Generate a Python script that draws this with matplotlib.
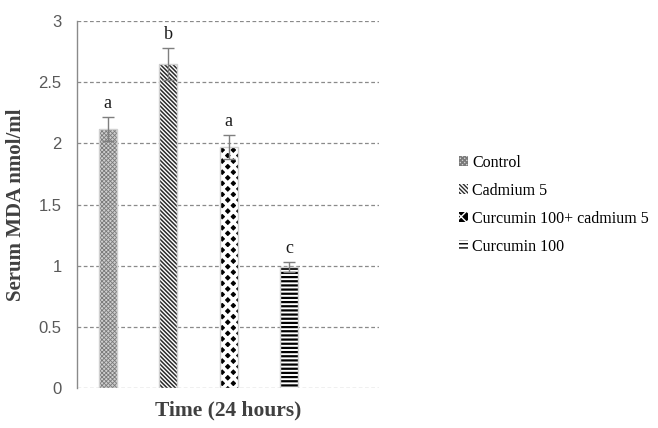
import matplotlib
matplotlib.use("Agg")
from matplotlib import pyplot as plt
import numpy as np

groups = ['Control', 'Cadmium 5', 'Curcumin 100+ cadmium 5', 'Curcumin 100']
means = [2.12, 2.65, 1.97, 0.99]
errors = [0.10, 0.13, 0.10, 0.04]
letters = ['a', 'b', 'a', 'c']

# fill colour, hatch, hatch colour, hatch line width
fills = ['#cfcfcf', 'white', 'black', 'white']
hatches = ['xxxxxxxx', '\\' * 8, 'xxx', '----']
hatch_colors = ['#7a7a7a', '#2a2a2a', 'white', '#000000']
hatch_widths = [0.6, 1.1, 2.6, 1.6]

fig = plt.figure(figsize=(6.58, 4.28), dpi=100)
ax = fig.add_axes([0.117, 0.0935, 0.459, 0.857])

x = np.arange(len(groups))
bars = []
for i in range(len(groups)):
    plt.rcParams['hatch.linewidth'] = hatch_widths[i]
    b = ax.bar(x[i], means[i], width=0.3, color=fills[i], edgecolor=hatch_colors[i],
               hatch=hatches[i], linewidth=0, label=groups[i], zorder=3)
    if hasattr(b[0], 'set_hatch_linewidth'):
        b[0].set_hatch_linewidth(hatch_widths[i])
    bars.append(b)
    ax.bar(x[i], means[i], width=0.3, color='none', edgecolor='#d0d0d0',
           linewidth=1.0, zorder=4)

ax.errorbar(x, means, yerr=errors, fmt='none', ecolor='#7f7f7f',
            elinewidth=1.0, capsize=4, capthick=1.0, zorder=5)

for i in range(len(groups)):
    ax.text(x[i], means[i] + errors[i] + 0.04, letters[i], ha='center', va='bottom',
            fontsize=13, family='Liberation Serif', color='#1a1a1a')

ax.set_ylim(0, 3)
ax.set_xlim(-0.51, 4.49)
ax.set_yticks(np.arange(0, 3.01, 0.5))
ax.set_yticklabels(['0', '0.5', '1', '1.5', '2', '2.5', '3'])
ax.set_xticks([])
ax.yaxis.grid(True, linestyle=(0, (3, 2)), color='#8a8a8a', linewidth=0.9, zorder=0)
ax.set_axisbelow(True)
for s in ['top', 'right', 'bottom']:
    ax.spines[s].set_visible(False)
ax.spines['left'].set_color('#8a8a8a')
ax.spines['left'].set_linewidth(1.0)
ax.tick_params(axis='y', length=0, pad=11, labelsize=12, labelcolor='#595959')
for lab in ax.get_yticklabels():
    lab.set_family('Liberation Sans')

ax.set_ylabel('Serum MDA nmol/ml', fontsize=15, fontweight='bold', family='Liberation Serif',
              color='#404040', labelpad=9)
ax.set_xlabel('Time (24 hours)', fontsize=15.5, fontweight='bold', family='Liberation Serif',
              color='#404040', labelpad=9)

plt.rcParams['hatch.linewidth'] = 1.0
fig.legend(handles=[b[0] for b in bars], labels=groups, loc='upper left',
           bbox_to_anchor=(0.676, 0.672), frameon=False, handlelength=0.55,
           handleheight=0.55, handletextpad=0.25, labelspacing=0.75,
           prop={'family': 'Liberation Serif', 'size': 11.5})

fig.savefig('out.png', dpi=100)
